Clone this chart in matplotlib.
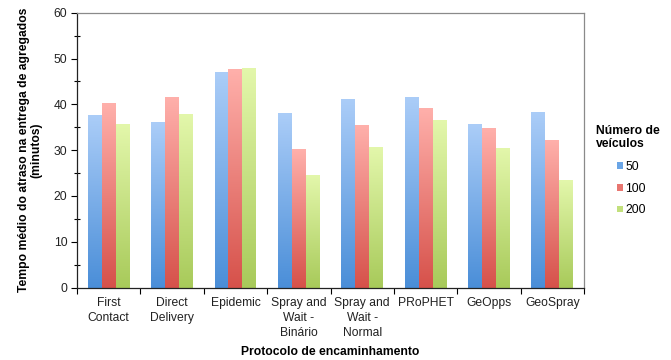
import numpy as np
import matplotlib
matplotlib.use("Agg")
import matplotlib.pyplot as plt
from matplotlib.colors import LinearSegmentedColormap
from matplotlib.patches import Patch

plt.rcParams['font.family'] = ['Liberation Sans', 'DejaVu Sans']

protocols = ["First\nContact", "Direct\nDelivery", "Epidemic", "Spray and\nWait -\nBinário",
             "Spray and\nWait -\nNormal", "PRoPHET", "GeOpps", "GeoSpray"]
series_names = ["50", "100", "200"]
delay_50 = [37.6, 36.1, 47.0, 38.1, 41.2, 41.6, 35.7, 38.3]
delay_100 = [40.3, 41.6, 47.6, 30.3, 35.5, 39.2, 34.8, 32.2]
delay_200 = [35.8, 37.8, 47.9, 24.6, 30.6, 36.5, 30.5, 23.5]
yticks = [0, 10, 20, 30, 40, 50, 60]

# (top colour, bottom colour) for each series' vertical gradient
grad_colors = [("#abcdf8", "#4a8ed8"), ("#ffb0ab", "#d6514a"), ("#e3f7ab", "#a8ca5a")]
legend_colors = ["#6aa5e6", "#e87670", "#c2e07c"]

fig = plt.figure(figsize=(6.71, 3.60), dpi=100)
ax = fig.add_axes([77 / 671, 1 - 287.5 / 360, (584 - 77) / 671, (287.5 - 12.7) / 360])

x = np.arange(len(protocols))
width = 0.22
gradient = np.linspace(0, 1, 256).reshape(-1, 1)
for k, vals in enumerate([delay_50, delay_100, delay_200]):
    cmap = LinearSegmentedColormap.from_list(f"g{k}", [grad_colors[k][1], grad_colors[k][0]])
    offs = (k - 1) * width
    bars = ax.bar(x + offs, vals, width=width, color="none", edgecolor="none", zorder=2)
    for b in bars:
        x0 = b.get_x()
        h = b.get_height()
        ax.imshow(gradient, extent=(x0, x0 + width, 0, h), origin="lower", cmap=cmap,
                  aspect="auto", zorder=2, interpolation="bilinear")

ax.set_xlim(-0.5, len(protocols) - 0.5)
ax.set_ylim(0, 60)
ax.set_yticks(yticks)
ax.set_yticklabels([str(t) for t in yticks], fontsize=8.7, color="#222222")
ax.set_yticks(np.arange(5, 60, 10), minor=True)
ax.tick_params(axis="y", which="major", direction="out", length=4, width=0.8, pad=3)
ax.tick_params(axis="y", which="minor", direction="inout", length=4, width=0.8)

ax.set_xticks(x)
ax.set_xticklabels(protocols, fontsize=8.7, color="#222222", linespacing=1.3, va="top")
ax.set_xticks(np.arange(-0.5, len(protocols), 1.0), minor=True)
ax.tick_params(axis="x", which="major", length=0, pad=7)
ax.tick_params(axis="x", which="minor", direction="out", length=4, width=0.8)

for side in ["left", "bottom"]:
    ax.spines[side].set_color("#222222")
    ax.spines[side].set_linewidth(0.9)
for side in ["top", "right"]:
    ax.spines[side].set_color("#8a8a8a")
    ax.spines[side].set_linewidth(0.9)

ax.set_ylabel("Tempo médio do atraso na entrega de agregados\n(minutos)", fontsize=8.7,
              fontweight="bold", linespacing=1.1, labelpad=8)
ax.set_xlabel("Protocolo de encaminhamento", fontsize=8.7, fontweight="bold", labelpad=5)

fig.text(596 / 671, 1 - 125 / 360, "Número de\nveículos", fontsize=8.7, fontweight="bold",
         ha="left", va="top", linespacing=1.15)
handles = [Patch(facecolor=c, edgecolor="none") for c in legend_colors]
fig.legend(handles, series_names, loc="upper left", bbox_to_anchor=(617 / 671, 1 - 161 / 360),
           frameon=False, fontsize=8.7, handlelength=0.5, handleheight=0.5,
           handletextpad=0.2, labelspacing=0.8, borderpad=0, borderaxespad=0)

fig.savefig("out.png", dpi=100, facecolor="white")
